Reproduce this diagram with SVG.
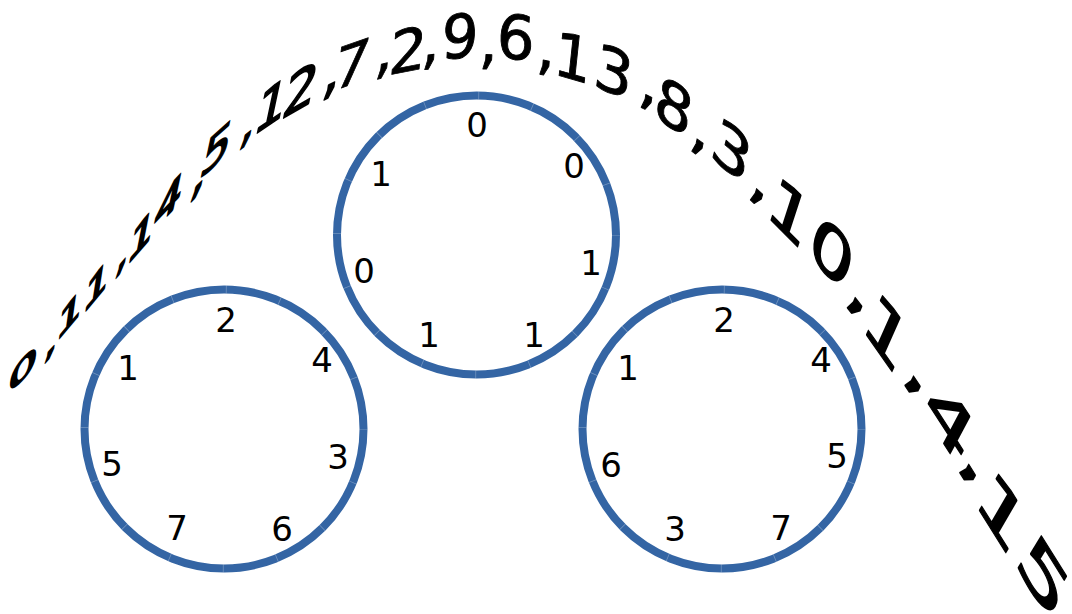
<svg xmlns="http://www.w3.org/2000/svg" width="1072" height="614" viewBox="0 0 1072 614">
<style>
.ring{fill:none;stroke:#3465a4;stroke-width:8}
.tick{fill:none;stroke:#ffffff;stroke-opacity:0.3;stroke-width:8;stroke-dasharray:0.8 54.15;stroke-dashoffset:0.4}
.lbl{font-family:"DejaVu Sans",sans-serif;font-size:34px;fill:#000;text-anchor:middle}
.c{font-family:"DejaVu Sans",sans-serif;font-size:100px;fill:#000;text-anchor:middle;stroke:#000;stroke-width:1.5;stroke-linejoin:round}
.b1{stroke-width:6}
.b2{stroke-width:3.5}
.b3{stroke-width:2.2}
</style>
<rect width="1072" height="614" fill="#fff"/>
<g id="seq">
<text class="c b1" y="36" transform="matrix(.459 -.475 -.033 .318 23 369)">0</text>
<text class="c b1" y="0" transform="matrix(.442 -.490 -.044 .357 50 354)">,</text>
<text class="c b1" y="36" transform="matrix(.411 -.490 -.056 .396 70 314)">1</text>
<text class="c b1" y="36" transform="matrix(.411 -.490 -.067 .425 97 285)">1</text>
<text class="c b1" y="0" transform="matrix(.411 -.490 -.080 .453 121 268)">,</text>
<text class="c b1" y="36" transform="matrix(.420 -.483 -.092 .471 142 235)">1</text>
<text class="c b1" y="36" transform="matrix(.436 -.468 -.104 .489 169 200)">4</text>
<text class="c b1" y="0" transform="matrix(.453 -.453 -.108 .509 197 191)">,</text>
<text class="c b2" y="36" transform="matrix(.476 -.428 -.112 .528 217 148)">5</text>
<text class="c b2" y="0" transform="matrix(.489 -.382 -.114 .538 246 140)">,</text>
<text class="c b2" y="36" transform="matrix(.510 -.344 -.124 .584 272 105)">1</text>
<text class="c b2" y="36" transform="matrix(.530 -.306 -.114 .589 301 89)">2</text>
<text class="c b2" y="0" transform="matrix(.544 -.254 -.091 .573 330 91)">,</text>
<text class="c" y="36" transform="matrix(.567 -.195 -.082 .590 352 64)">7</text>
<text class="c" y="0" transform="matrix(.580 -.155 -.063 .597 383 71)">,</text>
<text class="c" y="36" transform="matrix(.589 -.114 -.052 .598 408 50)">2</text>
<text class="c" y="0" transform="matrix(.576 -.071 -.042 .599 430 62)">,</text>
<text class="c" y="36" transform="matrix(.579 -.030 -.032 .609 460 36)">9</text>
<text class="c" y="0" transform="matrix(.580 .020 -.032 .609 488 62)">,</text>
<text class="c" y="36" transform="matrix(.597 .063 -.032 .609 516 37)">6</text>
<text class="c" y="0" transform="matrix(.589 .114 -.043 .609 545 68)">,</text>
<text class="c" y="36" transform="matrix(.596 .171 -.064 .607 573 57)">1</text>
<text class="c" y="36" transform="matrix(.593 .240 -.085 .604 614 71)">3</text>
<text class="c" y="0" transform="matrix(.588 .300 -.094 .593 647 103)">,</text>
<text class="c" y="36" transform="matrix(.577 .360 -.104 .591 674 106)">8</text>
<text class="c" y="0" transform="matrix(.582 .423 -.125 .587 698 148)">,</text>
<text class="c" y="36" transform="matrix(.582 .489 -.143 .572 732 150)">3</text>
<text class="c" y="0" transform="matrix(.585 .546 -.163 .567 757 198)">,</text>
<text class="c b3" y="36" transform="matrix(.622 .622 -.185 .571 790 212)">1</text>
<text class="c b3" y="36" transform="matrix(.616 .684 -.205 .564 832 252)">0</text>
<text class="c b3" y="0" transform="matrix(.603 .772 -.234 .552 855 308)">,</text>
<text class="c b3" y="36" transform="matrix(.597 .852 -.244 .548 887 332)">1</text>
<text class="c b3" y="0" transform="matrix(.604 .895 -.263 .539 913 387)">,</text>
<text class="c b3" y="36" transform="matrix(.610 .939 -.272 .512 950 420)">4</text>
<text class="c b3" y="0" transform="matrix(.604 .967 -.281 .507 968 475)">,</text>
<text class="c b3" y="36" transform="matrix(.615 .984 -.290 .502 1002 512)">1</text>
<text class="c b3" y="36" transform="matrix(.636 1.018 -.299 .497 1044 576)">5</text>
</g>
<g id="wheel-left">
<circle class="ring" cx="224" cy="429" r="139.5"/>
<circle class="tick" cx="224" cy="429" r="139.5"/>
<text class="lbl" x="226" y="332">2</text>
<text class="lbl" x="322" y="372">4</text>
<text class="lbl" x="338" y="469">3</text>
<text class="lbl" x="282" y="541">6</text>
<text class="lbl" x="177" y="540">7</text>
<text class="lbl" x="112" y="476">5</text>
<text class="lbl" x="128" y="380">1</text>
</g>
<g id="wheel-middle">
<circle class="ring" cx="476.5" cy="235" r="139.5"/>
<circle class="tick" cx="476.5" cy="235" r="139.5"/>
<text class="lbl" x="477" y="137">0</text>
<text class="lbl" x="574" y="178">0</text>
<text class="lbl" x="591" y="275">1</text>
<text class="lbl" x="534" y="347">1</text>
<text class="lbl" x="429" y="347">1</text>
<text class="lbl" x="364" y="283">0</text>
<text class="lbl" x="381" y="186">1</text>
</g>
<g id="wheel-right">
<circle class="ring" cx="722" cy="429" r="139.5"/>
<circle class="tick" cx="722" cy="429" r="139.5"/>
<text class="lbl" x="724" y="332">2</text>
<text class="lbl" x="821" y="372">4</text>
<text class="lbl" x="837" y="468">5</text>
<text class="lbl" x="781" y="540">7</text>
<text class="lbl" x="675" y="541">3</text>
<text class="lbl" x="611" y="477">6</text>
<text class="lbl" x="628" y="380">1</text>
</g>
</svg>
